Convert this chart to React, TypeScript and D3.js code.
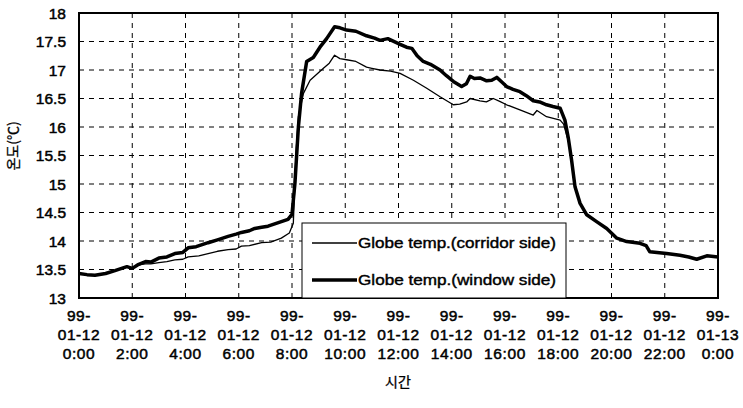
import React from "react";
import * as d3 from "d3";

const xTickHours = [0, 2, 4, 6, 8, 10, 12, 14, 16, 18, 20, 22, 24];
const xTickLine1 = ["99-", "99-", "99-", "99-", "99-", "99-", "99-", "99-", "99-", "99-", "99-", "99-", "99-"];
const xTickLine2 = ["01-12", "01-12", "01-12", "01-12", "01-12", "01-12", "01-12", "01-12", "01-12", "01-12", "01-12", "01-12", "01-13"];
const xTickLine3 = ["0:00", "2:00", "4:00", "6:00", "8:00", "10:00", "12:00", "14:00", "16:00", "18:00", "20:00", "22:00", "0:00"];
const yTicks = [13, 13.5, 14, 14.5, 15, 15.5, 16, 16.5, 17, 17.5, 18];

const windowHours = [0, 0.3, 0.6, 1.0, 1.35, 1.6, 1.8, 2.0, 2.2, 2.5, 2.7, 3.0, 3.3, 3.6, 3.9, 4.1, 4.4, 4.85, 5.2, 5.6, 5.9, 6.1, 6.4, 6.6, 6.86, 7.1, 7.35, 7.6, 7.85, 8.0, 8.11, 8.24, 8.36, 8.55, 8.8, 9.05, 9.3, 9.6, 9.8, 10.05, 10.4, 10.8, 11.1, 11.3, 11.6, 12.06, 12.3, 12.5, 12.7, 12.93, 13.2, 13.56, 13.8, 14.06, 14.37, 14.55, 14.69, 14.85, 15.06, 15.31, 15.5, 15.69, 15.9, 16.06, 16.3, 16.56, 16.8, 17.06, 17.3, 17.56, 17.8, 18.07, 18.25, 18.38, 18.5, 18.63, 18.82, 19.07, 19.44, 19.82, 20.2, 20.57, 21.07, 21.3, 21.44, 22.07, 22.57, 22.9, 23.2, 23.58, 24];
const windowTemps = [13.43, 13.41, 13.4, 13.43, 13.48, 13.52, 13.55, 13.52, 13.58, 13.64, 13.63, 13.7, 13.72, 13.78, 13.8, 13.88, 13.9, 13.97, 14.02, 14.08, 14.12, 14.15, 14.18, 14.22, 14.24, 14.26, 14.3, 14.34, 14.38, 14.47, 15.01, 16.0, 16.59, 17.15, 17.22, 17.4, 17.55, 17.76, 17.74, 17.7, 17.68, 17.6, 17.56, 17.52, 17.55, 17.45, 17.4, 17.38, 17.25, 17.15, 17.1, 17.0, 16.9, 16.8, 16.71, 16.76, 16.89, 16.85, 16.86, 16.81, 16.82, 16.87, 16.78, 16.71, 16.66, 16.62, 16.55, 16.46, 16.44, 16.39, 16.36, 16.33, 16.12, 15.8, 15.42, 14.95, 14.66, 14.46, 14.34, 14.22, 14.05, 13.99, 13.96, 13.92, 13.81, 13.78, 13.75, 13.72, 13.68, 13.74, 13.72];

const corridorHours = [0, 0.3, 0.6, 1.0, 1.35, 1.6, 1.8, 2.0, 2.2, 2.5, 2.7, 3.0, 3.3, 3.6, 3.9, 4.1, 4.5, 4.85, 5.2, 5.6, 5.9, 6.1, 6.4, 6.86, 7.2, 7.6, 7.9, 8.05, 8.15, 8.24, 8.43, 8.68, 9.18, 9.4, 9.6, 9.8, 10.05, 10.4, 10.8, 11.0, 11.3, 11.7, 12.06, 12.56, 13.06, 13.56, 14.06, 14.3, 14.56, 14.69, 15.06, 15.3, 15.56, 15.8, 16.06, 16.56, 17.06, 17.2, 17.56, 18.07, 18.2, 18.38, 18.5, 18.63, 18.82, 19.07, 19.44, 19.82, 20.2, 20.57, 21.07, 21.3, 21.44, 22.07, 22.57, 22.9, 23.2, 23.58, 24];
const corridorTemps = [13.43, 13.41, 13.4, 13.43, 13.48, 13.52, 13.55, 13.52, 13.58, 13.6, 13.6, 13.62, 13.64, 13.67, 13.68, 13.72, 13.74, 13.78, 13.82, 13.85, 13.86, 13.91, 13.92, 13.97, 13.98, 14.05, 14.14, 14.31, 15.54, 16.18, 16.59, 16.82, 17.03, 17.12, 17.26, 17.2, 17.18, 17.15, 17.05, 17.03, 17.0, 16.98, 16.94, 16.82, 16.68, 16.53, 16.39, 16.4, 16.44, 16.5, 16.46, 16.44, 16.5, 16.45, 16.39, 16.3, 16.21, 16.29, 16.18, 16.12, 16.05, 15.75, 15.42, 14.95, 14.66, 14.46, 14.34, 14.22, 14.05, 13.99, 13.96, 13.92, 13.81, 13.78, 13.75, 13.72, 13.68, 13.74, 13.72];

const legendLabels = ["Globe temp.(corridor side)", "Globe temp.(window side)"];

const W = 743, H = 408;
const left = 79, right = 718, top = 13, bottom = 298;
const FONT = "'Liberation Sans', Arial, sans-serif";
const KFONT = "'Noto Sans CJK KR', sans-serif";

export default function App() {
  const x = d3.scaleLinear().domain([0, 24]).range([left, right]);
  const y = d3.scaleLinear().domain([13, 18]).range([bottom, top]);
  const line = d3.line<[number, number]>().x(d => x(d[0])).y(d => y(d[1]));
  const winPts = windowHours.map((h, i) => [h, windowTemps[i]] as [number, number]);
  const corPts = corridorHours.map((h, i) => [h, corridorTemps[i]] as [number, number]);

  const lx = 302, ly = 223, lw = 264, lh = bottom - 223;

  return (
    <svg width={W} height={H} style={{ position: "absolute", left: 0, top: 0, background: "#fff" }} fontFamily={FONT}>
      <rect x={0} y={0} width={W} height={H} fill="#fff" />
      {xTickHours.slice(1, -1).map(h => (
        <line key={"vx" + h} x1={x(h)} x2={x(h)} y1={top} y2={bottom} stroke="#000" strokeWidth={1} strokeDasharray="5,5" />
      ))}
      {yTicks.slice(1, -1).map(v => (
        <line key={"hy" + v} x1={left} x2={right} y1={y(v)} y2={y(v)} stroke="#000" strokeWidth={1} strokeDasharray="5,5" />
      ))}
      <path d={line(corPts) || ""} fill="none" stroke="#000" strokeWidth={1.3} strokeLinejoin="round" />
      <path d={line(winPts) || ""} fill="none" stroke="#000" strokeWidth={3.5} strokeLinejoin="round" />
      <rect x={left} y={top} width={right - left} height={bottom - top} fill="none" stroke="#000" strokeWidth={2} />
      <rect x={lx} y={ly} width={lw} height={lh} fill="#fff" stroke="#000" strokeWidth={1} />
      <line x1={312} x2={357} y1={243} y2={243} stroke="#000" strokeWidth={1.3} />
      <line x1={312} x2={357} y1={280} y2={280} stroke="#000" strokeWidth={3.5} />
      <text x={358} y={248} fontSize={14} textLength={198} lengthAdjust="spacingAndGlyphs" stroke="#000" strokeWidth={0.4}>{legendLabels[0]}</text>
      <text x={358} y={285} fontSize={14} textLength={198} lengthAdjust="spacingAndGlyphs" stroke="#000" strokeWidth={0.4}>{legendLabels[1]}</text>
      {yTicks.map(v => (
        <text key={"yt" + v} x={66} y={y(v) + 5.5} textAnchor="end" fontSize={15.5} stroke="#000" strokeWidth={0.5}>{String(v)}</text>
      ))}
      {xTickHours.map((h, i) => (
        <g key={"xt" + h} fontSize={15.5} textAnchor="middle" stroke="#000" strokeWidth={0.5} letterSpacing={0.6}>
          <text x={x(h)} y={321}>{xTickLine1[i]}</text>
          <text x={x(h)} y={340}>{xTickLine2[i]}</text>
          <text x={x(h)} y={359}>{xTickLine3[i]}</text>
        </g>
      ))}
      <text x={398} y={387} textAnchor="middle" fontSize={14} fontFamily={KFONT} stroke="#000" strokeWidth={0.3}>시간</text>
      <text transform="translate(18,146) rotate(-90)" textAnchor="middle" fontSize={14} fontFamily={KFONT} stroke="#000" strokeWidth={0.3}>온도(℃)</text>
    </svg>
  );
}
